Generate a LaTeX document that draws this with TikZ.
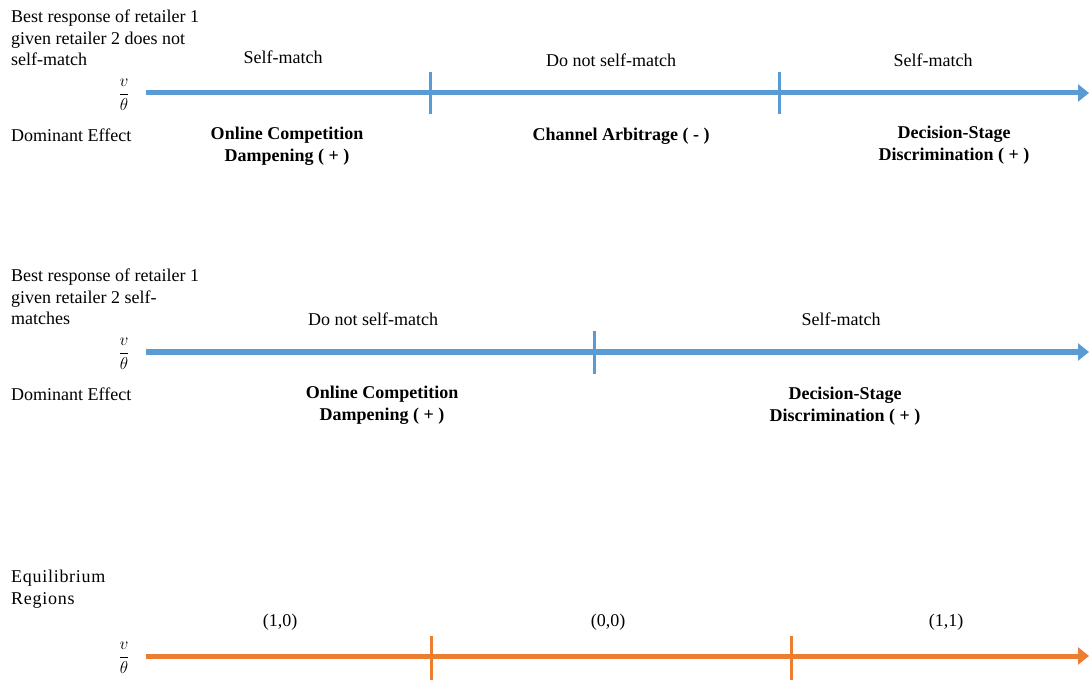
\documentclass[tikz,border=0pt]{standalone}
\usepackage{fontspec}
\setmainfont{Liberation Serif}
\newfontfamily\spacedfont[LetterSpace=4]{Liberation Serif}
\usetikzlibrary{arrows.meta}
\definecolor{axblue}{RGB}{91,155,213}
\definecolor{axorange}{RGB}{237,125,49}
\tikzset{
  txt/.style={inner sep=0pt, font=\fontsize{18}{21.5}\selectfont},
  lbl/.style={txt, align=left, anchor=west},
  reg/.style={txt, align=center},
  eff/.style={txt, align=center, font=\fontsize{18}{21.5}\selectfont\bfseries},
  spaced/.style={inner sep=0pt, font=\spacedfont\fontsize{18}{22}\selectfont, align=left},
  axis/.style={line width=5pt, -{Triangle[length=11pt,width=17pt]}},
  tick/.style={line width=3pt},
  frac/.style={inner sep=0pt, font=\fontsize{19}{21}\selectfont}
}
\begin{document}
\begin{tikzpicture}[x=1pt,y=-1pt]
\useasboundingbox (0,0) rectangle (1089,684);
% ---------- Section 1 ----------
\node[lbl] (h1) at (11,38) {Best response of retailer 1\\given retailer 2 does not\\self-match};
\node[frac] (f1) at (124,95) {$\displaystyle\frac{v}{\theta}$};
\coordinate (s1) at (146,93);
\coordinate (e1) at (1089,93);
\draw[axis, axblue] (s1) -- (e1);
\coordinate (t1a) at (430,72); \coordinate (b1a) at (430,114);
\coordinate (t1b) at (779,72); \coordinate (b1b) at (779,114);
\draw[tick, axblue] (t1a) -- (b1a);
\draw[tick, axblue] (t1b) -- (b1b);
\node[reg] (r1a) at (283,57) {Self-match};
\node[reg] (r1b) at (611,60) {Do not self-match};
\node[reg] (r1c) at (933,60) {Self-match};
\node[lbl] (d1) at (11,135) {Dominant Effect};
\node[eff] (e1a) at (287,146) {Online Competition\\Dampening ( + )};
\node[eff] (e1b) at (621,136) {Channel Arbitrage ( - )};
\node[eff] (e1c) at (954,145) {Decision-Stage\\Discrimination ( + )};
% ---------- Section 2 ----------
\node[lbl] (h2) at (11,297) {Best response of retailer 1\\given retailer 2 self-\\matches};
\node[frac] (f2) at (124,354) {$\displaystyle\frac{v}{\theta}$};
\coordinate (s2) at (146,352);
\coordinate (e2) at (1089,352);
\draw[axis, axblue] (s2) -- (e2);
\coordinate (t2a) at (594,331); \coordinate (b2a) at (594,374);
\draw[tick, axblue] (t2a) -- (b2a);
\node[reg] (r2a) at (373,319) {Do not self-match};
\node[reg] (r2b) at (841,319) {Self-match};
\node[lbl] (d2) at (11,394) {Dominant Effect};
\node[eff] (e2a) at (382,405) {Online Competition\\Dampening ( + )};
\node[eff] (e2b) at (845,406) {Decision-Stage\\Discrimination ( + )};
% ---------- Section 3 ----------
\node[spaced, anchor=west] (h3) at (11,589) {Equilibrium\\Regions};
\node[frac] (f3) at (124,658) {$\displaystyle\frac{v}{\theta}$};
\coordinate (s3) at (146,656);
\coordinate (e3) at (1089,656);
\draw[axis, axorange] (s3) -- (e3);
\coordinate (t3a) at (431,636); \coordinate (b3a) at (431,680);
\coordinate (t3b) at (791,636); \coordinate (b3b) at (791,680);
\draw[tick, axorange] (t3a) -- (b3a);
\draw[tick, axorange] (t3b) -- (b3b);
\node[txt] (q1) at (280,622) {(1,0)};
\node[txt] (q2) at (608,622) {(0,0)};
\node[txt] (q3) at (946,622) {(1,1)};
\end{tikzpicture}
\end{document}
